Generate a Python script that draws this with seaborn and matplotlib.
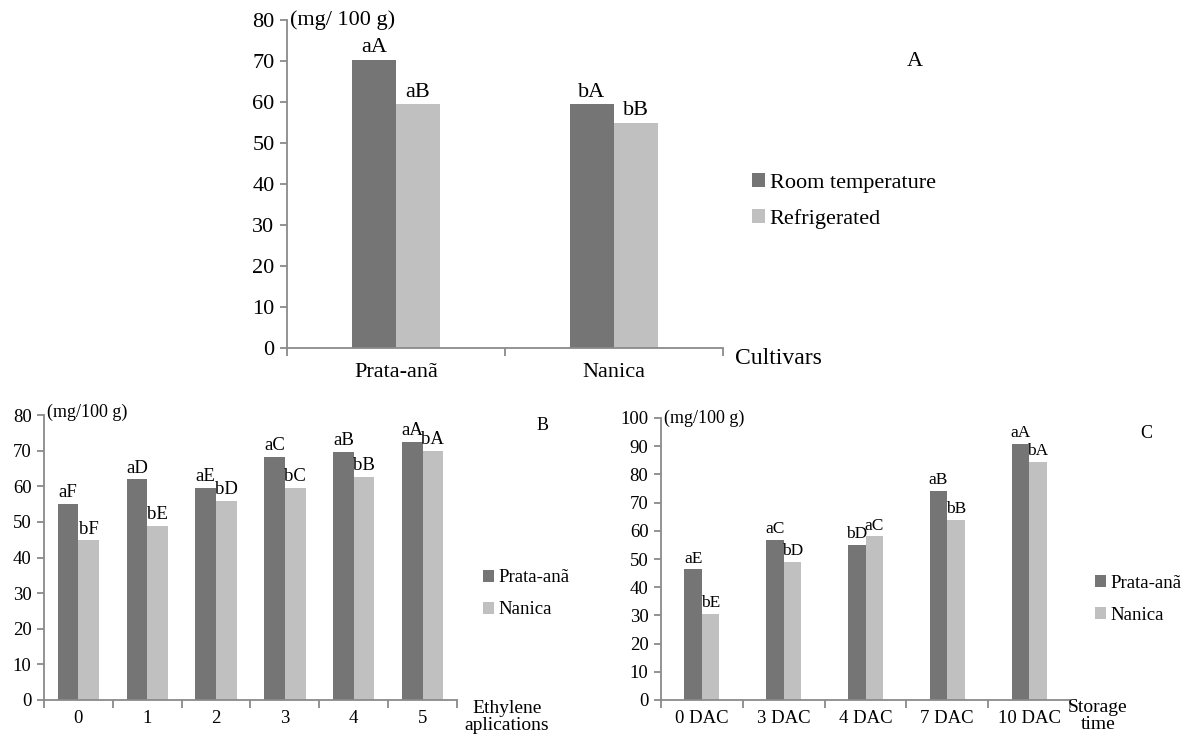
import matplotlib
matplotlib.use("Agg")
import numpy as np
import pandas as pd
import matplotlib.pyplot as plt
import seaborn as sns
from matplotlib.patches import Patch

# ---- data ----
cultivars = ["Prata-anã", "Nanica"]
room_temp = [70.3, 59.4]
refrigerated = [59.4, 54.9]
letters_room = ["aA", "bA"]
letters_refr = ["aB", "bB"]

ethylene_apps = ["0", "1", "2", "3", "4", "5"]
prata_eth = [55.0, 61.9, 59.6, 68.3, 69.7, 72.4]
nanica_eth = [44.8, 48.9, 55.9, 59.6, 62.7, 70.0]
letters_prata_eth = ["aF", "aD", "aE", "aC", "aB", "aA"]
letters_nanica_eth = ["bF", "bE", "bD", "bC", "bB", "bA"]

storage_days = ["0 DAC", "3 DAC", "4 DAC", "7 DAC", "10 DAC"]
prata_sto = [46.3, 56.9, 55.1, 74.1, 90.7]
nanica_sto = [30.5, 49.0, 58.0, 63.9, 84.5]
letters_prata_sto = ["aE", "aC", "bD", "aB", "aA"]
letters_nanica_sto = ["bE", "bD", "aC", "bB", "bA"]

DARK = "#757575"
LIGHT = "#c0c0c0"
AXC = "#8a8a8a"

sns.set_theme(style="white")
plt.rcParams["font.family"] = ["Liberation Serif", "DejaVu Serif"]
plt.rcParams["text.color"] = "black"
plt.rcParams["xtick.labelcolor"] = "black"
plt.rcParams["ytick.labelcolor"] = "black"

W, H = 1183, 737
fig = plt.figure(figsize=(W / 100, H / 100), dpi=100)


def px_axes(left, right, top, bottom):
    return fig.add_axes([left / W, 1 - bottom / H, (right - left) / W, (bottom - top) / H])


def panel(ax, cats, s1, s2, names, l1, l2, ymax, width, fs_tick, fs_lab, xpad):
    df = pd.DataFrame({
        "cat": cats * 2,
        "value": s1 + s2,
        "series": [names[0]] * len(cats) + [names[1]] * len(cats),
    })
    sns.barplot(data=df, x="cat", y="value", hue="series", palette=[DARK, LIGHT],
                width=width, saturation=1, ax=ax, legend=False, errorbar=None,
                linewidth=0, edgecolor="none")
    for cont, labs in zip(ax.containers, [l1, l2]):
        for bar, lab in zip(cont, labs):
            ax.annotate(lab, (bar.get_x() + bar.get_width() / 2, bar.get_height()),
                        xytext=(0, 2), textcoords="offset points",
                        ha="center", va="bottom", fontsize=fs_lab)
    n = len(cats)
    ax.set_xlim(-0.5, n - 0.5)
    ax.set_ylim(0, ymax)
    ax.set_yticks(np.arange(0, ymax + 1, 10))
    ax.set_xticks(np.arange(-0.5, n), minor=True)
    ax.set_xlabel("")
    ax.set_ylabel("")
    for s in ["top", "right"]:
        ax.spines[s].set_visible(False)
    for s in ["left", "bottom"]:
        ax.spines[s].set_color(AXC)
        ax.spines[s].set_linewidth(1.3)
    ax.tick_params(axis="x", which="major", bottom=True, length=0, pad=xpad, labelsize=fs_tick)
    ax.tick_params(axis="x", which="minor", bottom=True, length=6, width=1.3, color=AXC,
                   direction="out")
    ax.tick_params(axis="y", left=True, length=5, width=1.3, color=AXC, direction="out",
                   pad=4, labelsize=fs_tick)
    ax.grid(False)


def legend(ax, names, x, y, fs, spacing):
    handles = [Patch(facecolor=DARK, edgecolor="none"), Patch(facecolor=LIGHT, edgecolor="none")]
    ax.legend(handles, names, loc="center left", bbox_to_anchor=(x / W, 1 - y / H),
              bbox_transform=fig.transFigure, frameon=False, fontsize=fs,
              handlelength=0.6, handleheight=0.6, handletextpad=0.2,
              labelspacing=spacing, borderpad=0, borderaxespad=0)


# ---- panel A ----
axA = px_axes(287, 723, 20, 348)
panel(axA, cultivars, room_temp, refrigerated, ["Room temperature", "Refrigerated"],
      letters_room, letters_refr, 80, 0.405, 16, 16, 11)
legend(axA, ["Room temperature", "Refrigerated"], 752, 201, 16, 0.75)
axA.text(0.008, 1.0, "(mg/ 100 g)", transform=axA.transAxes, ha="left", va="center", fontsize=16)
fig.text(915 / W, 1 - 62 / H, "A", ha="center", va="center", fontsize=16)
fig.text(735 / W, 1 - 358 / H, "Cultivars", ha="left", va="center", fontsize=17)

# ---- panel B ----
axB = px_axes(44, 457, 415, 700)
panel(axB, ethylene_apps, prata_eth, nanica_eth, ["Prata-anã", "Nanica"],
      letters_prata_eth, letters_nanica_eth, 80, 0.6, 13.5, 13.5, 7)
legend(axB, ["Prata-anã", "Nanica"], 483, 594, 13.5, 0.8)
axB.text(0.008, 1.01, "(mg/100 g)", transform=axB.transAxes, ha="left", va="center", fontsize=13)
fig.text(543 / W, 1 - 426 / H, "B", ha="center", va="center", fontsize=13)
fig.text(507 / W, 1 - 700 / H, "Ethylene\naplications", ha="center", va="top",
         fontsize=14, linespacing=1.0)

# ---- panel C ----
axC = px_axes(661, 1070, 418, 700)
panel(axC, storage_days, prata_sto, nanica_sto, ["Prata-anã", "Nanica"],
      letters_prata_sto, letters_nanica_sto, 100, 0.43, 13.5, 12.5, 7)
legend(axC, ["Prata-anã", "Nanica"], 1095, 599, 13.5, 0.8)
axC.text(0.008, 1.0, "(mg/100 g)", transform=axC.transAxes, ha="left", va="center", fontsize=13)
fig.text(1146 / W, 1 - 433 / H, "C", ha="center", va="center", fontsize=13)
fig.text(1098 / W, 1 - 699 / H, "Storage\ntime", ha="center", va="top",
         fontsize=14, linespacing=1.0)

fig.savefig("out.png", dpi=100, facecolor="white")
